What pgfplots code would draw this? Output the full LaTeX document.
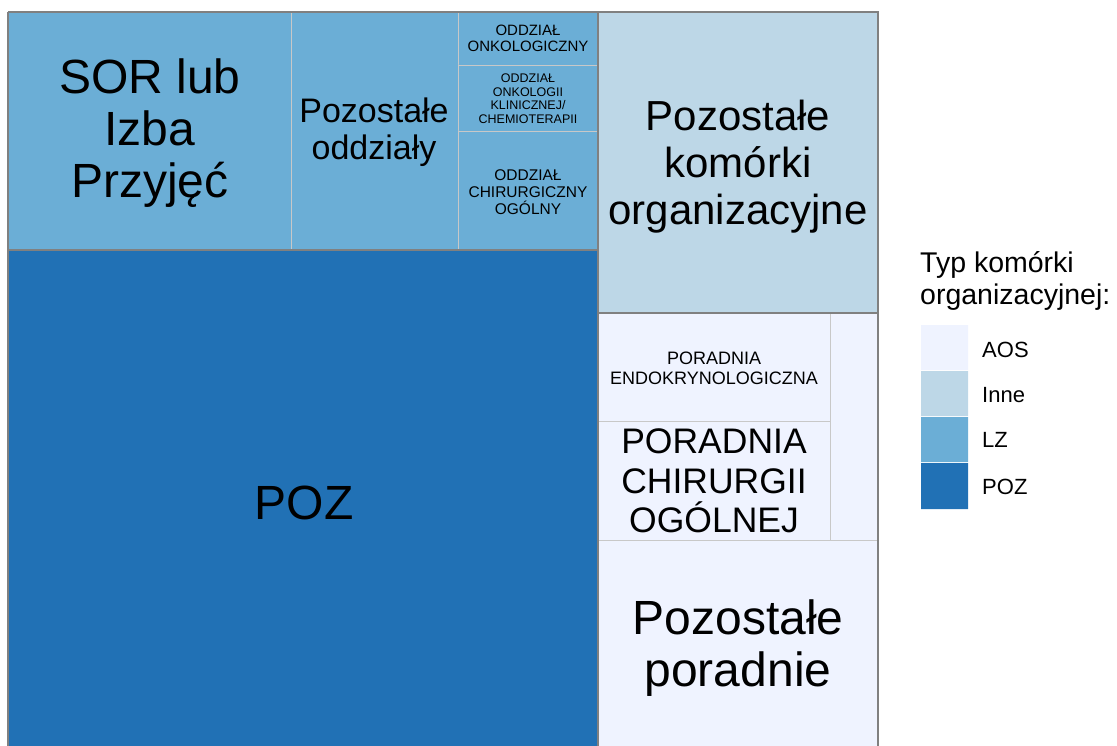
\documentclass[border=0pt]{standalone}
\usepackage{fontspec}
\setmainfont{Liberation Sans}
\usepackage{pgfplots}
\pgfplotsset{compat=1.18}

\definecolor{cPOZ}{HTML}{2171B5}
\definecolor{cLZ}{HTML}{6BAED6}
\definecolor{cInne}{HTML}{BDD7E7}
\definecolor{cAOS}{HTML}{EFF3FF}
\definecolor{edge}{HTML}{808080}
\definecolor{inner}{HTML}{C8C8C8}

% font size and line spacing in bp (1 bp = 1 px of the reference)
\newcommand\fs[2]{\fontsize{#1bp}{#2bp}\selectfont}

\tikzset{
    tile/.style={draw=inner, line width=0.8bp},
    group/.style={draw=edge, line width=1.3bp},
    lab/.style={align=center, inner sep=0pt, text=black},
}

\begin{document}
\begin{tikzpicture}
\useasboundingbox (0,0) rectangle (1117bp,746bp);
\begin{axis}[
    at={(0,0)}, anchor=south west,
    scale only axis,
    width=1117bp, height=746bp,
    xmin=0, xmax=1117, ymin=0, ymax=746,
    y dir=reverse,
    axis lines=none,
    clip=false,
]

% --- tiles: LZ ---
\addplot[tile, fill=cLZ] coordinates {(8,12) (291,12) (291,250) (8,250) (8,12)};
\addplot[tile, fill=cLZ] coordinates {(291,12) (458,12) (458,250) (291,250) (291,12)};
\addplot[tile, fill=cLZ] coordinates {(458,12) (598,12) (598,65) (458,65) (458,12)};
\addplot[tile, fill=cLZ] coordinates {(458,65) (598,65) (598,131) (458,131) (458,65)};
\addplot[tile, fill=cLZ] coordinates {(458,131) (598,131) (598,250) (458,250) (458,131)};
% --- POZ ---
\addplot[tile, fill=cPOZ] coordinates {(8,250) (598,250) (598,750) (8,750) (8,250)};
% --- Inne ---
\addplot[tile, fill=cInne] coordinates {(598,12) (878,12) (878,313) (598,313) (598,12)};
% --- AOS ---
\addplot[tile, fill=cAOS] coordinates {(598,313) (830,313) (830,421) (598,421) (598,313)};
\addplot[tile, fill=cAOS] coordinates {(598,421) (830,421) (830,540) (598,540) (598,421)};
\addplot[tile, fill=cAOS] coordinates {(830,313) (878,313) (878,540) (830,540) (830,313)};
\addplot[tile, fill=cAOS] coordinates {(598,540) (878,540) (878,750) (598,750) (598,540)};

% --- group outlines ---
\addplot[group] coordinates {(8,12) (598,12) (598,250) (8,250) (8,12)};
\addplot[group] coordinates {(8,250) (598,250) (598,750) (8,750) (8,250)};
\addplot[group] coordinates {(598,12) (878,12) (878,313) (598,313) (598,12)};
\addplot[group] coordinates {(598,313) (878,313) (878,750) (598,750) (598,313)};

% --- legend swatches ---
\addplot[draw=none, fill=cAOS]  coordinates {(921,325) (968,325) (968,370) (921,370) (921,325)};
\addplot[draw=none, fill=cInne] coordinates {(921,371) (968,371) (968,416) (921,416) (921,371)};
\addplot[draw=none, fill=cLZ]   coordinates {(921,417) (968,417) (968,462) (921,462) (921,417)};
\addplot[draw=none, fill=cPOZ]  coordinates {(921,463) (968,463) (968,509) (921,509) (921,463)};

% --- labels ---
\node[lab, font=\fs{48}{52}] at (axis cs:150,133) {SOR lub\\Izba\\Przyjęć};
\node[lab, font=\fs{34}{37}] at (axis cs:374,132) {Pozostałe\\oddziały};
\node[lab, font=\fs{15}{16.5}] at (axis cs:528,38.5) {ODDZIAŁ\\ONKOLOGICZNY};
\node[lab, font=\fs{12.5}{13.5}] at (axis cs:528,98.5) {ODDZIAŁ\\ONKOLOGII\\KLINICZNEJ/\\CHEMIOTERAPII};
\node[lab, font=\fs{15.5}{16.7}] at (axis cs:528,192) {ODDZIAŁ\\CHIRURGICZNY\\OGÓLNY};
\node[lab, font=\fs{48}{52}] at (axis cs:304,503) {POZ};
\node[lab, font=\fs{42}{47}] at (axis cs:738,167) {Pozostałe\\komórki\\organizacyjne};
\node[lab, font=\fs{18}{20}] at (axis cs:714,368) {PORADNIA\\ENDOKRYNOLOGICZNA};
\node[lab, font=\fs{35.5}{39.5}] at (axis cs:714,481) {PORADNIA\\CHIRURGII\\OGÓLNEJ};
\node[lab, font=\fs{48}{52}] at (axis cs:738,648) {Pozostałe\\poradnie};

% --- legend text ---
\node[lab, align=left, anchor=west, font=\fs{28.5}{32}] at (axis cs:920,281) {Typ komórki\\organizacyjnej:};
\node[lab, anchor=west, font=\fs{22}{22}] at (axis cs:982,350) {AOS};
\node[lab, anchor=west, font=\fs{22}{22}] at (axis cs:982,395) {Inne};
\node[lab, anchor=west, font=\fs{22}{22}] at (axis cs:982,440) {LZ};
\node[lab, anchor=west, font=\fs{22}{22}] at (axis cs:982,487) {POZ};
\end{axis}
\end{tikzpicture}
\end{document}
